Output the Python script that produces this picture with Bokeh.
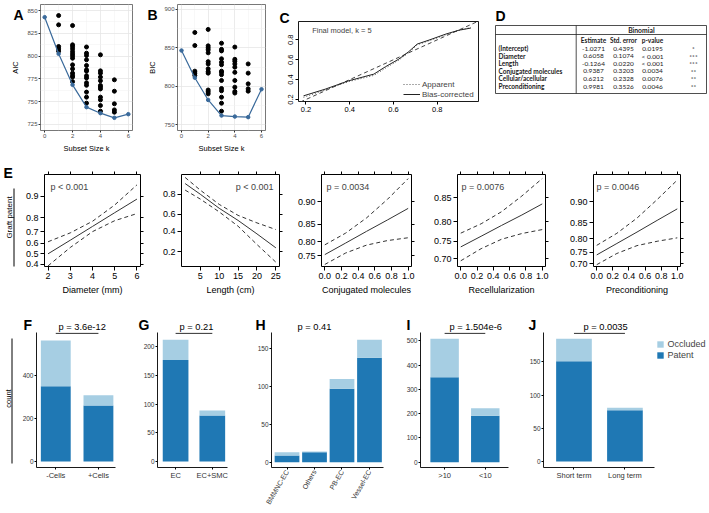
import math
import numpy as np
from bokeh.plotting import figure
from bokeh.models import (Range1d, FixedTicker, LinearAxis, Label, ColumnDataSource,
                          Legend, LegendItem, GridBox)
from bokeh.layouts import row, column
from bokeh.embed import file_html
from bokeh.resources import INLINE
from bokeh.core.properties import value

FONT = "Liberation Sans"
TFONT = "Lato"
BLUE = "#3a6a9b"
DARK = "#1f78b4"
LIGHT = "#a6cee3"
W, H = 709, 513

# ===================== DATA =====================
# A / B: best subset selection
subset_k = [0, 1, 2, 3, 4, 5, 6]
aic_best = [842.7, 802.5, 768.5, 744.0, 737.4, 732.3, 736.3]
bic_best = [846.5, 811.0, 782.0, 761.7, 760.4, 759.6, 796.0]
aic_other_k = [1, 1, 1, 1, 1,
               2, 2, 2, 2, 2, 2, 2, 2, 2, 2, 2, 2, 2, 2,
               3, 3, 3, 3, 3, 3, 3, 3, 3, 3, 3, 3, 3, 3,
               4, 4, 4, 4, 4, 4, 4, 4, 4, 4, 4, 4,
               5, 5, 5, 5, 5]
aic_other = [844.5, 834.3, 810.5, 808.0, 805.4,
             833.5, 812.4, 810.5, 808.0, 805.0, 802.5, 800.3, 797.7, 790.4, 786.0, 781.3, 778.7, 777.0, 772.0,
             810.0, 803.2, 800.7, 796.0, 789.7, 785.0, 783.5, 778.4, 776.0, 770.7, 768.0, 760.5, 755.0, 748.4,
             801.4, 783.8, 781.3, 777.0, 773.0, 767.8, 766.0, 764.0, 755.0, 752.0, 745.8, 739.6,
             774.0, 761.5, 747.7, 741.0, 738.5]
bic_other_k = [1, 1, 1, 1, 1,
               2, 2, 2, 2, 2, 2, 2, 2, 2, 2, 2, 2, 2,
               3, 3, 3, 3, 3, 3, 3, 3, 3, 3, 3, 3, 3, 3, 3,
               4, 4, 4, 4, 4, 4, 4, 4, 4, 4,
               5, 5, 5, 5, 5]
bic_other = [870.0, 853.0, 819.6, 817.0, 814.0,
             874.0, 852.6, 850.0, 847.4, 843.5, 832.0, 829.0, 822.6, 819.0, 817.0, 795.0, 792.6, 790.0,
             856.0, 848.0, 846.0, 835.7, 831.3, 828.0, 819.6, 818.0, 815.0, 807.4, 797.0, 794.0, 785.6, 777.8, 767.4,
             851.0, 835.0, 832.6, 829.0, 824.8, 818.0, 807.4, 798.7, 793.0, 791.0,
             829.0, 817.0, 803.0, 796.5, 793.5]
aic_ticks = [725, 750, 775, 800, 825, 850]
bic_ticks = [750, 800, 850, 900]
k_ticks = [0, 2, 4, 6]

# C: calibration
calib_pred = [0.189, 0.288, 0.395, 0.510, 0.563, 0.624, 0.670, 0.708, 0.762, 0.838, 0.899, 0.953]
calib_apparent = [0.222, 0.296, 0.380, 0.442, 0.515, 0.596, 0.672, 0.750, 0.790, 0.850, 0.894, 0.924]
calib_bias = [0.237, 0.304, 0.388, 0.455, 0.529, 0.606, 0.682, 0.757, 0.797, 0.857, 0.897, 0.918]
ideal_xy = [0.0, 1.0]
calib_ticks = [0.2, 0.4, 0.6, 0.8]

# D: table
tbl_terms = ["(Intercept)", "Diameter", "Length", "Conjugated molecules", "Cellular/acellular", "Preconditioning"]
tbl_est = ["-1.0271", "0.6058", "-0.1264", "0.9387", "0.6212", "0.9981"]
tbl_se = ["0.4395", "0.1074", "0.0220", "0.3203", "0.2328", "0.3526"]
tbl_pval = ["0.0195", "< 0.001", "< 0.001", "0.0034", "0.0076", "0.0046"]
tbl_sig = ["*", "***", "***", "**", "**", "**"]
tbl_cols = ["Estimate", "Std. error", "p-value"]

# E: effect plots (probabilities)
diam_x = [2, 3, 4, 5, 6]
diam_fit = [0.50, 0.627, 0.74, 0.828, 0.89]
diam_hi = [0.613, 0.69, 0.776, 0.866, 0.933]
diam_lo = [0.387, 0.56, 0.70, 0.78, 0.823]
len_x = [1, 5, 10, 15, 20, 25]
len_fit = [0.87, 0.80, 0.67, 0.53, 0.37, 0.23]
len_hi = [0.90, 0.83, 0.71, 0.59, 0.50, 0.42]
len_lo = [0.83, 0.76, 0.63, 0.46, 0.26, 0.13]
bin_x = [0.0, 0.25, 0.5, 0.75, 1.0]
conj_fit = [0.754, 0.795, 0.831, 0.861, 0.887]
conj_hi = [0.789, 0.826, 0.866, 0.904, 0.935]
conj_lo = [0.715, 0.760, 0.788, 0.803, 0.812]
recel_fit = [0.735, 0.764, 0.791, 0.815, 0.838]
recel_hi = [0.772, 0.795, 0.822, 0.853, 0.882]
recel_lo = [0.694, 0.730, 0.756, 0.771, 0.781]
prec_fit = [0.739, 0.784, 0.823, 0.857, 0.885]
prec_hi = [0.777, 0.819, 0.863, 0.904, 0.935]
prec_lo = [0.696, 0.745, 0.776, 0.792, 0.804]
diam_xt = [2, 3, 4, 5, 6]
len_xt = [5, 10, 15, 20, 25]
bin_xt = [0.0, 0.2, 0.4, 0.6, 0.8, 1.0]
bin_xl = ["0.0", "0.2", "0.4", "0.6", "0.8", "1.0"]
diam_yt = [0.4, 0.5, 0.6, 0.7, 0.8, 0.9]
diam_yl = ["0.4", "0.5", "0.6", "0.7", "0.8", "0.9"]
len_yt = [0.2, 0.4, 0.6, 0.8]
len_yl = ["0.2", "0.4", "0.6", "0.8"]
conj_yt = [0.75, 0.80, 0.85, 0.90]
conj_yl = ["0.75", "0.80", "0.85", "0.90"]
recel_yt = [0.70, 0.75, 0.80, 0.85]
recel_yl = ["0.70", "0.75", "0.80", "0.85"]
prec_yt = [0.70, 0.75, 0.80, 0.85, 0.90]
prec_yl = ["0.70", "0.75", "0.80", "0.85", "0.90"]

# F-J: stacked bars (counts)
cells_cat = ["-Cells", "+Cells"]
cells_patent = [350, 260]
cells_occl = [213, 48]
ec_cat = ["EC", "EC+SMC"]
ec_patent = [177, 80]
ec_occl = [35, 9]
src_cat = ["BMMNC-EC", "Others", "PB-EC", "Vessel-EC"]
src_patent = [9, 13, 97, 138]
src_occl = [4, 1, 13, 24]
lenb_cat = [">10", "<10"]
lenb_patent = [350, 191]
lenb_occl = [158, 31]
term_cat = ["Short term", "Long term"]
term_patent = [151, 77]
term_occl = [34, 4]
pvals = ["p = 3.6e-12", "p = 0.21", "p = 0.41", "p = 1.504e-6", "p = 0.0035"]
cells_yt = [0, 200, 400]
ec_yt = [0, 50, 100, 150, 200]
src_yt = [0, 50, 100, 150]
lenb_yt = [0, 100, 200, 300, 400, 500]
term_yt = [0, 50, 100, 150]
legend_labels = ["Occluded", "Patent"]


# ===================== HELPERS =====================
def lg(v):
    a = np.asarray(v, dtype=float)
    return (np.log(a / (1 - a))).tolist()


class Panel:
    """cell / frame given in page pixel coordinates."""
    def __init__(self, cell, frame, xr, yr, axes=True):
        cx0, cy0, cx1, cy1 = cell
        fx0, fy0, fx1, fy1 = frame
        self.frame = frame
        self.xr = xr
        self.yr = yr
        kw = {}
        if not axes:
            kw = dict(x_axis_type=None, y_axis_type=None)
        p = figure(width=cx1 - cx0, height=cy1 - cy0,
                   x_range=Range1d(*xr), y_range=Range1d(*yr),
                   min_border_left=fx0 - cx0, min_border_right=cx1 - fx1,
                   min_border_top=fy0 - cy0, min_border_bottom=cy1 - fy1,
                   output_backend="svg", toolbar_location=None, **kw)
        p.frame_align = False
        p.background_fill_color = "white"
        p.border_fill_color = "white"
        p.outline_line_color = None
        if axes:
            p.xgrid.grid_line_color = None
            p.ygrid.grid_line_color = None
        self.p = p

    def dx(self, rx):
        fx0, fy0, fx1, fy1 = self.frame
        return self.xr[0] + (rx - fx0) / (fx1 - fx0) * (self.xr[1] - self.xr[0])

    def dy(self, ry):
        fx0, fy0, fx1, fy1 = self.frame
        return self.yr[1] - (ry - fy0) / (fy1 - fy0) * (self.yr[1] - self.yr[0])

    def label(self, rx, ry, text, size, align="left"):
        self.p.add_layout(Label(x=self.dx(rx), y=self.dy(ry), text=text,
                                text_font=FONT, text_font_size=f"{size}px",
                                text_align=align, text_baseline="middle"))


def style_axis(ax, size, color="black", tick_out=3, standoff=2, tick_color="black",
               title_size=None, title_standoff=3, line_color=None):
    ax.major_label_text_font = FONT
    ax.major_label_text_font_size = f"{size}px"
    ax.major_label_text_color = color
    ax.major_tick_out = tick_out
    ax.major_tick_in = 0
    ax.minor_tick_out = 0
    ax.minor_tick_in = 0
    ax.major_tick_line_color = tick_color
    ax.major_label_standoff = standoff
    ax.axis_line_color = line_color
    ax.axis_label_text_font = FONT
    ax.axis_label_text_font_style = "normal"
    ax.axis_label_text_color = "black"
    if title_size:
        ax.axis_label_text_font_size = f"{title_size}px"
    ax.axis_label_standoff = title_standoff


# overlay (page-level annotation layer: panel letters, side labels, shared legend)
ov = figure(width=W, height=H, x_range=Range1d(0, W), y_range=Range1d(H, 0),
            x_axis_type=None, y_axis_type=None, min_border=0,
            output_backend="svg", toolbar_location=None)
ov.frame_align = False
ov.outline_line_color = None
ov.background_fill_alpha = 0
ov.border_fill_alpha = 0


def ov_text(x, y, text, size, bold=False, align="left", baseline="middle", angle=0.0):
    ov.add_layout(Label(x=x, y=y, text=text, text_font=FONT, text_font_size=f"{size}px",
                        text_font_style="bold" if bold else "normal",
                        text_align=align, text_baseline=baseline, angle=angle,
                        text_color="black"))


def letter(x, y, t):
    ov_text(x, y, t, 14, bold=True, baseline="alphabetic")


# ===================== ROW 1 =====================
def subset_panel(cell, frame, yr, ticks, best, ok, ovals, ylab):
    P = Panel(cell, frame, (-0.3, 6.3), yr)
    p = P.p
    p.outline_line_color = "#555555"
    p.outline_line_width = 0.8
    step = ticks[1] - ticks[0]
    p.xaxis.ticker = FixedTicker(ticks=k_ticks, minor_ticks=[1, 3, 5])
    p.yaxis.ticker = FixedTicker(ticks=ticks, minor_ticks=[t + step / 2 for t in ticks])
    for g in (p.xgrid, p.ygrid):
        g.grid_line_color = "#e6e6e6"
        g.grid_line_width = 0.8
        g.minor_grid_line_color = "#f1f1f1"
        g.minor_grid_line_width = 0.5
    style_axis(p.xaxis[0], 6, color="#4d4d4d", tick_out=2, standoff=1,
               tick_color="#333333", title_size=7.5, title_standoff=3)
    style_axis(p.yaxis[0], 6, color="#4d4d4d", tick_out=2, standoff=1,
               tick_color="#333333", title_size=7.5, title_standoff=4)
    p.xaxis.axis_label = "Subset Size k"
    p.yaxis.axis_label = ylab
    p.scatter(ok, ovals, size=4, color="black")
    p.line(subset_k, best, line_color=BLUE, line_width=1.2)
    p.scatter(subset_k, best, size=3.5, color=BLUE)
    return P


PA = subset_panel((0, 0, 145, 155), (40, 4, 132, 130), (718.4, 856.6), aic_ticks,
                  aic_best, aic_other_k, aic_other, "AIC")
PB = subset_panel((145, 0, 276, 155), (173, 4, 265, 130), (742.2, 906.5), bic_ticks,
                  bic_best, bic_other_k, bic_other, "BIC")
letter(13, 14, "A")
letter(147, 14, "B")

# C calibration
PC = Panel((276, 0, 488, 155), (298, 21, 478, 101), (0.166, 0.988), (0.18, 0.984))
pc = PC.p
pc.outline_line_color = "black"
pc.outline_line_width = 0.9
pc.xaxis.ticker = FixedTicker(ticks=calib_ticks)
pc.yaxis.ticker = FixedTicker(ticks=calib_ticks)
style_axis(pc.xaxis[0], 7.5, tick_out=3, standoff=2)
style_axis(pc.yaxis[0], 7.5, tick_out=3, standoff=2)
pc.yaxis.major_label_orientation = "vertical"
pc.line(ideal_xy, ideal_xy, line_color="#444444", line_width=1, line_dash="4 3")
r_app = pc.line(calib_pred, calib_apparent, line_color="#555555", line_width=1, line_dash="1 2")
r_bias = pc.line(calib_pred, calib_bias, line_color="#222222", line_width=1)
leg_c = Legend(items=[LegendItem(label="Apparent", renderers=[r_app]),
                      LegendItem(label="Bias-corrected", renderers=[r_bias])],
               location=(103, 0), padding=2, margin=0, spacing=0,
               label_height=10, glyph_height=10, glyph_width=17, label_standoff=2,
               label_text_font=FONT, label_text_font_size="8px",
               background_fill_alpha=0, border_line_alpha=0)
pc.add_layout(leg_c)
PC.label(311.7, 30, "Final model, k = 5", 7.5)
letter(279, 17, "C")

# D table
PD = Panel((488, 0, 709, 155), (488, 0, 709, 155), (488, 709), (155, 0), axes=False)
pd_ = PD.p
t_l, t_r, t_t, t_b = 495, 706, 25, 93
hdr_y, sep_x = 34, 575.7
col_x = [593, 623, 652]
sig_x = 693
row0, rstep = 48.0, 7.6
rows_y = [row0 + rstep * i for i in range(len(tbl_terms))]
pd_.quad(left=[t_l], right=[t_r], top=[t_t], bottom=[t_b], fill_color=None,
         line_color="#222222", line_width=0.8)
pd_.segment(x0=[t_l, sep_x], y0=[hdr_y, t_t], x1=[t_r, sep_x], y1=[hdr_y, t_b],
            line_color="#222222", line_width=0.8)
tkw = dict(text_font=value(TFONT), text_color="#1a1a1a", text_baseline="middle")
pd_.text(x=[(sep_x + t_r) / 2], y=[(t_t + hdr_y) / 2], text=["Binomial"], text_font_size="6.8px",
         text_font_style="bold", text_align="center", **tkw)
pd_.text(x=col_x, y=[39.5] * 3, text=tbl_cols, text_font_size="6.5px",
         text_font_style="bold", text_align="center", **tkw)
pd_.text(x=[t_l + 3] * len(tbl_terms), y=rows_y, text=tbl_terms, text_font_size="6.5px",
         text_font_style="bold", text_align="left", **tkw)
for cx, vals in zip(col_x + [sig_x], [tbl_est, tbl_se, tbl_pval, tbl_sig]):
    pd_.text(x=[cx] * len(vals), y=rows_y, text=vals, text_font_size="6.5px",
             text_align="center", **tkw)
letter(495, 15, "D")


# ===================== ROW 2 =====================
def effect_panel(cell, frame, xr, yr, x, fit, lo, hi, xt, xl, yt, yl, xtitle, ptxt, prx, palign):
    P = Panel(cell, frame, xr, yr)
    p = P.p
    p.outline_line_color = "black"
    p.outline_line_width = 1
    ylt = lg(yt)
    p.xaxis.ticker = FixedTicker(ticks=xt)
    p.xaxis.major_label_overrides = dict(zip(xt, xl))
    p.yaxis.ticker = FixedTicker(ticks=ylt)
    p.yaxis.major_label_overrides = dict(zip(ylt, yl))
    style_axis(p.xaxis[0], 9, tick_out=4, standoff=2, title_size=9, title_standoff=3)
    style_axis(p.yaxis[0], 9, tick_out=4, standoff=2)
    p.xaxis.axis_label = xtitle
    top = LinearAxis(ticker=FixedTicker(ticks=xt))
    right = LinearAxis(ticker=FixedTicker(ticks=ylt))
    for ax, tk in ((top, xt), (right, ylt)):
        style_axis(ax, 9, tick_out=3, standoff=0)
        ax.major_label_overrides = {t: "" for t in tk}
    p.add_layout(top, "above")
    p.add_layout(right, "right")
    p.line(x, lg(fit), line_color="#333333", line_width=1)
    p.line(x, lg(hi), line_color="#333333", line_width=1, line_dash="4 3")
    p.line(x, lg(lo), line_color="#333333", line_width=1, line_dash="4 3")
    P.label(prx, 186, ptxt, 9, align=palign)
    return P


PE1 = effect_panel((0, 155, 150, 300), (44, 174, 140, 266), (1.84, 6.16), (-0.485, 3.03),
                   diam_x, diam_fit, diam_lo, diam_hi, diam_xt, [str(v) for v in diam_xt],
                   diam_yt, diam_yl, "Diameter (mm)", "p < 0.001", 50, "left")
PE2 = effect_panel((150, 155, 285, 300), (181, 174, 279, 266), (0.04, 25.96), (-2.11, 2.34),
                   len_x, len_fit, len_lo, len_hi, len_xt, [str(v) for v in len_xt],
                   len_yt, len_yl, "Length (cm)", "p < 0.001", 273, "right")
PE3 = effect_panel((285, 155, 420, 300), (321, 174, 411, 266), (-0.04, 1.04), (0.878, 2.75),
                   bin_x, conj_fit, conj_lo, conj_hi, bin_xt, bin_xl,
                   conj_yt, conj_yl, "Conjugated molecules", "p = 0.0034", 326, "left")
PE4 = effect_panel((420, 155, 555, 300), (457, 174, 545, 266), (-0.04, 1.04), (0.736, 2.07),
                   bin_x, recel_fit, recel_lo, recel_hi, bin_xt, bin_xl,
                   recel_yt, recel_yl, "Recellularization", "p = 0.0076", 461, "left")
PE5 = effect_panel((555, 155, 709, 300), (593, 174, 680, 266), (-0.04, 1.04), (0.789, 2.787),
                   bin_x, prec_fit, prec_lo, prec_hi, bin_xt, bin_xl,
                   prec_yt, prec_yl, "Preconditioning", "p = 0.0046", 596, "left")
letter(3, 172, "E")
ov_text(9, 217, "Graft patent", 8, align="center", angle=math.pi / 2)
ov.segment(x0=[13.5], y0=[188], x1=[13.5], y1=[266], line_color="black", line_width=1)


# ===================== ROW 3 =====================
FT, FB = 332, 467


def bar_panel(cell, fx0, fx1, xr, zero_px, ppu, cats, patent, occl, yt, width,
              bracket=True, rot=None):
    yr = ((zero_px - FB) / ppu, (zero_px - FT) / ppu)
    P = Panel(cell, (fx0, FT, fx1, FB), xr, yr)
    p = P.p
    xs = list(range(1, len(cats) + 1))
    src = ColumnDataSource(dict(x=xs, patent=patent, occluded=occl))
    rs = p.vbar_stack(["patent", "occluded"], x="x", width=width, source=src,
                      fill_color=[DARK, LIGHT], line_color=None)
    p.xaxis.ticker = FixedTicker(ticks=xs)
    p.xaxis.major_label_overrides = dict(zip(xs, cats))
    p.yaxis.ticker = FixedTicker(ticks=yt)
    style_axis(p.xaxis[0], 7.5, color="#333333", tick_out=2, standoff=1, line_color="black")
    style_axis(p.yaxis[0], 6.5, color="#333333", tick_out=2, standoff=1, line_color="black")
    p.xaxis.axis_line_width = 0.9
    p.yaxis.axis_line_width = 0.9
    if rot is not None:
        p.xaxis.major_label_orientation = rot
        p.xaxis.major_label_text_font_size = "7px"
    if bracket:
        yb = P.dy(FT + 0.8)
        p.segment(x0=[xs[0]], y0=[yb], x1=[xs[1]], y1=[yb], line_color="black", line_width=0.9)
    return P, rs


PF, _ = bar_panel((0, 300, 130, 513), 36, 115, (0.548, 2.4), 461.0, 0.215,
                  cells_cat, cells_patent, cells_occl, cells_yt, 0.7)
PG, _ = bar_panel((130, 300, 245, 513), 157, 227, (0.507, 2.414), 461.0, 0.574,
                  ec_cat, ec_patent, ec_occl, ec_yt, 0.7)
PH, _ = bar_panel((245, 300, 398, 513), 271, 383, (0.435, 4.51), 461.7, 0.756,
                  src_cat, src_patent, src_occl, src_yt, 0.9, bracket=False, rot=math.pi / 3)
PI, _ = bar_panel((398, 300, 525, 513), 420, 508, (0.407, 2.571), 461.7, 0.243,
                  lenb_cat, lenb_patent, lenb_occl, lenb_yt, 0.7)
PJ, _ = bar_panel((525, 300, 709, 513), 543, 654, (0.402, 2.58), 461.0, 0.664,
                  term_cat, term_patent, term_occl, term_yt, 0.7)

# shared fill legend (drawn on the page layer, right of panel J);
# key renderers are zero-height bars that only supply the legend swatch style
key_src = ColumnDataSource(dict(x=[0], top=[0]))
lg_occ = ov.vbar(x="x", top="top", width=1, source=key_src, fill_color=LIGHT, line_color=None)
lg_pat = ov.vbar(x="x", top="top", width=1, source=key_src, fill_color=DARK, line_color=None)
leg_j = Legend(items=[LegendItem(label=legend_labels[0], renderers=[lg_occ]),
                      LegendItem(label=legend_labels[1], renderers=[lg_pat])],
               location=(655.5, H - 360), padding=0, margin=0, spacing=0,
               label_height=11, glyph_height=8, glyph_width=8, label_standoff=4,
               label_text_font=FONT, label_text_font_size="9px",
               background_fill_alpha=0, border_line_alpha=0)
ov.add_layout(leg_j)

for (x, t), px_, pv in zip([(23, "F"), (138, "G"), (255, "H"), (406, "I"), (528, "J")],
                           [58, 179, 297, 449, 583], pvals):
    letter(x, 324, t)
    ov_text(px_, 326, pv, 9.3)
ov_text(7.5, 398, "count", 7.5, align="center", angle=math.pi / 2)
ov.segment(x0=[11.5], y0=[338], x1=[11.5], y1=[463], line_color="black", line_width=1)

main = column(
    row(PA.p, PB.p, PC.p, PD.p),
    row(PE1.p, PE2.p, PE3.p, PE4.p, PE5.p),
    row(PF.p, PG.p, PH.p, PI.p, PJ.p),
)
page = GridBox(children=[(main, 0, 0), (ov, 0, 0)])

open("out.html", "w").write(file_html(page, INLINE))
